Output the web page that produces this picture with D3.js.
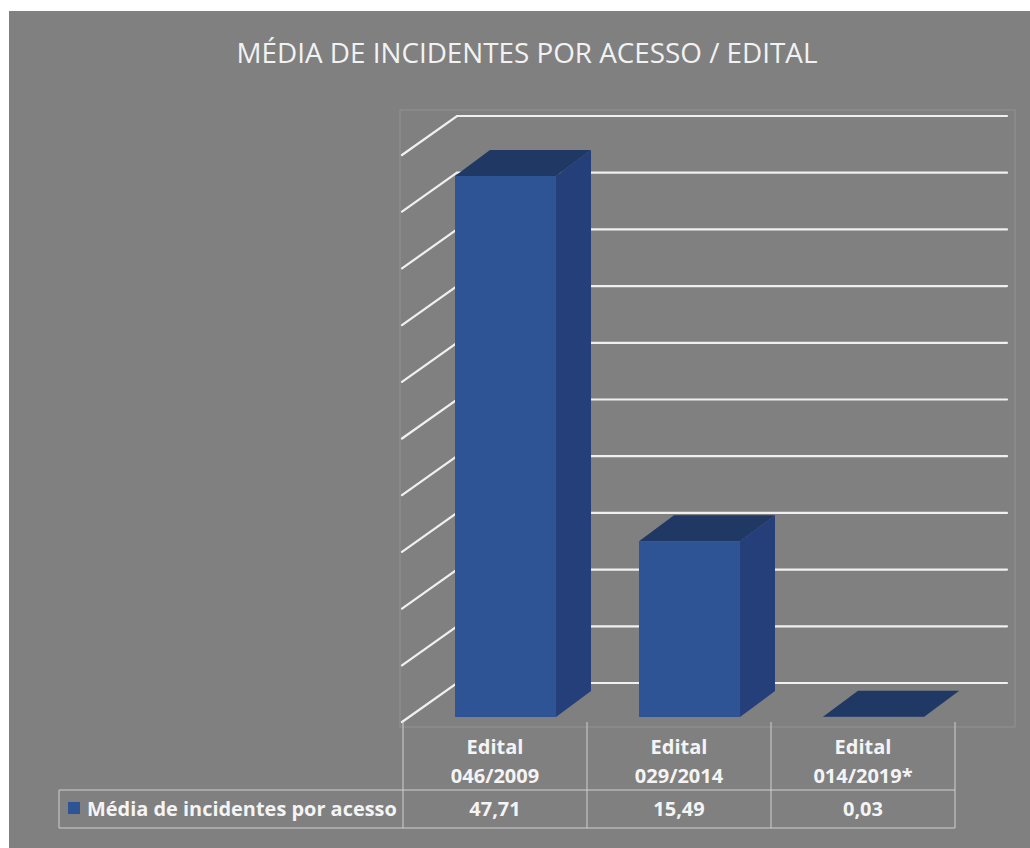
<!DOCTYPE html>
<html>
<head>
<meta charset="utf-8">
<script src="https://cdn.jsdelivr.net/npm/d3@7"></script>
<style>
  html, body { margin: 0; padding: 0; background: #ffffff; }
  svg { display: block; }
</style>
</head>
<body>
<div id="chart"></div>
<script>
// Chart data
const categories = ['Edital 046/2009', 'Edital 029/2014', 'Edital 014/2019*'];
const categoryLines = [['Edital', '046/2009'], ['Edital', '029/2014'], ['Edital', '014/2019*']];
const values = [47.71, 15.49, 0.03];
const valueLabels = ['47,71', '15,49', '0,03'];
const yTicks = [0, 5, 10, 15, 20, 25, 30, 35, 40, 45, 50];
const seriesName = 'Média de incidentes por acesso';
const title = 'MÉDIA DE INCIDENTES POR ACESSO / EDITAL';

const W = 1030, H = 848;
const BG = '#808080';
const GRID = '#f0f0f0';
const TABLE_LINE = '#cfcfcf';
const FRONT = '#2e5496';
const SIDE = '#243f7a';
const TOP = '#1f3864';
const FONT = '"Open Sans", "Noto Sans", sans-serif';

// 3D geometry
const plot = { left: 400, top: 110, right: 1015, bottom: 727 };
const wall = { dx: 55, dy: -39 };     // floor depth (front -> back wall)
const bar  = { dx: 35, dy: -26, offset: 52, width: 101 };
const frontFloor = 722;               // y of value 0 on front edge
const barFloor = 717;                 // y of value 0 on bar front faces

const svg = d3.select('#chart').append('svg')
  .attr('width', W).attr('height', H);

// chart background
svg.append('rect')
  .attr('x', 9).attr('y', 11).attr('width', W - 9).attr('height', H - 11)
  .attr('fill', BG);

// fit text to a width by adjusting font size
function fitWidth(sel, target) {
  const len = sel.node().getComputedTextLength();
  const fs = parseFloat(sel.attr('font-size'));
  if (len > 0) sel.attr('font-size', fs * target / len);
}

// Title
const t = svg.append('text')
  .attr('x', 527).attr('y', 63)
  .attr('text-anchor', 'middle')
  .attr('font-family', FONT).attr('font-weight', 400)
  .attr('font-size', 26)
  .attr('fill', '#f2f2f2')
  .text(title);
fitWidth(t, 581);

// plot area border
svg.append('rect')
  .attr('x', plot.left).attr('y', plot.top)
  .attr('width', plot.right - plot.left).attr('height', plot.bottom - plot.top)
  .attr('fill', 'none').attr('stroke', '#929292').attr('stroke-width', 1);

// Scales
const x = d3.scaleBand().domain(categories).range([403, 955]);
const yBack = d3.scaleLinear().domain([0, 50]).range([frontFloor + wall.dy, frontFloor + wall.dy - 567]);
const yWallFront = d3.scaleLinear().domain([0, 50]).range([frontFloor, frontFloor - 567]);
const yBar = d3.scaleLinear().domain([0, 50]).range([barFloor, barFloor - 567]);

const wallX0 = 402, wallX1 = wallX0 + wall.dx, backRight = 1007;

// Gridlines: left wall diagonals + back wall horizontals
const grid = svg.append('g')
  .attr('stroke', GRID).attr('stroke-width', 2.2).attr('stroke-linecap', 'round')
  .attr('fill', 'none');
grid.selectAll('path.grid')
  .data(yTicks)
  .join('path')
  .attr('class', 'grid')
  .attr('d', v => `M${wallX0},${yWallFront(v)}L${wallX1},${yBack(v)}L${backRight},${yBack(v)}`);

// Bars (front, side, top)
const bars = svg.append('g').selectAll('g.bar')
  .data(categories.map((c, i) => ({ c, v: values[i] })))
  .join('g').attr('class', 'bar');

bars.each(function(d) {
  const g = d3.select(this);
  const x0 = x(d.c) + bar.offset, x1 = x0 + bar.width;
  const yT = yBar(d.v), yB = yBar(0);
  const dx = bar.dx, dy = bar.dy;
  // side
  g.append('path')
    .attr('d', `M${x1},${yB}L${x1 + dx},${yB + dy}L${x1 + dx},${yT + dy}L${x1},${yT}Z`)
    .attr('fill', SIDE);
  // front
  g.append('rect')
    .attr('x', x0).attr('y', yT)
    .attr('width', bar.width).attr('height', Math.max(0, yB - yT))
    .attr('fill', FRONT);
  // top
  g.append('path')
    .attr('d', `M${x0},${yT}L${x1},${yT}L${x1 + dx},${yT + dy}L${x0 + dx},${yT + dy}Z`)
    .attr('fill', TOP);
});

// Data table
const tbl = { top: 722, mid: 790, bottom: 828, legendLeft: 59 };
const tableLines = svg.append('g')
  .attr('stroke', TABLE_LINE).attr('stroke-width', 1).attr('fill', 'none');

const colEdges = categories.map(c => x(c)).concat([x(categories[categories.length - 1]) + x.bandwidth()]);
tableLines.selectAll('line.v')
  .data(colEdges)
  .join('line').attr('class', 'v')
  .attr('x1', d => d).attr('x2', d => d)
  .attr('y1', tbl.top).attr('y2', tbl.bottom);
tableLines.append('line')
  .attr('x1', tbl.legendLeft).attr('x2', colEdges[colEdges.length - 1])
  .attr('y1', tbl.mid).attr('y2', tbl.mid);
tableLines.append('line')
  .attr('x1', tbl.legendLeft).attr('x2', colEdges[colEdges.length - 1])
  .attr('y1', tbl.bottom).attr('y2', tbl.bottom);
tableLines.append('line')
  .attr('x1', tbl.legendLeft).attr('x2', tbl.legendLeft)
  .attr('y1', tbl.mid).attr('y2', tbl.bottom);

const labelStyle = s => s
  .attr('font-family', FONT).attr('font-weight', 700)
  .attr('font-size', 20).attr('fill', '#f4f4f4')
  .attr('text-anchor', 'middle');

// category headers
categories.forEach((c, i) => {
  const cx = x(c) + x.bandwidth() / 2;
  categoryLines[i].forEach((line, j) => {
    svg.append('text')
      .call(labelStyle)
      .attr('x', cx).attr('y', 754 + j * 29)
      .text(line);
  });
  svg.append('text')
    .call(labelStyle)
    .attr('x', cx).attr('y', 816)
    .text(valueLabels[i]);
});

// legend key
svg.append('rect')
  .attr('x', 68).attr('y', 802).attr('width', 12).attr('height', 12)
  .attr('fill', FRONT);
const lg = svg.append('text')
  .attr('x', 87).attr('y', 816)
  .attr('font-family', FONT).attr('font-weight', 700)
  .attr('font-size', 19).attr('fill', '#f4f4f4')
  .text(seriesName);
fitWidth(lg, 310);
</script>
</body>
</html>
